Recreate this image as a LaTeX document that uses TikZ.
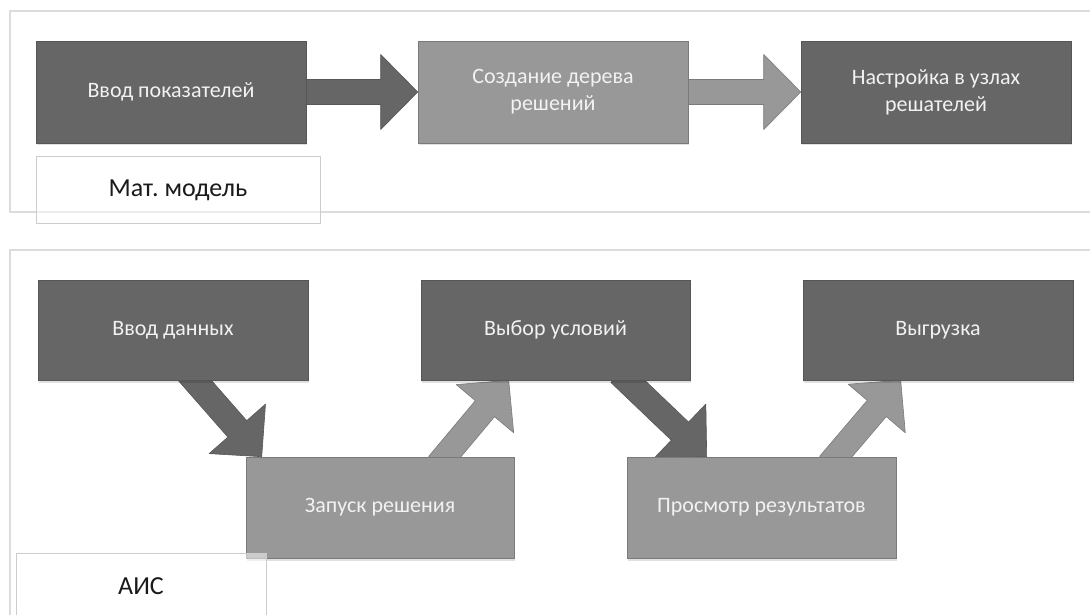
\documentclass[tikz,border=0pt]{standalone}
\usepackage{fontspec}
\setmainfont{Carlito}
\frenchspacing
\usetikzlibrary{calc,shadows}
\definecolor{darkf}{HTML}{666666}
\definecolor{darkd}{HTML}{565656}
\definecolor{midf}{HTML}{989898}
\definecolor{midd}{HTML}{7A7A7A}
\definecolor{framec}{HTML}{DCDCDC}
\definecolor{labeld}{HTML}{CCCCCC}
\definecolor{boxtext}{HTML}{F2F2F2}
\definecolor{labeltext}{HTML}{1A1A1A}
\pgfdeclarelayer{back}
\pgfdeclarelayer{bg}
\pgfsetlayers{back,bg,main}
\newcommand{\blockarrow}[3]{%
  \path ($(#2)!-10pt!(#3)$) coordinate (ba-s) ($(#3)!37pt!(#2)$) coordinate (ba-b);
  \draw[#1] ($(ba-s)!12.5pt!90:(#3)$) -- ($(ba-b)!12.5pt!90:(#3)$) -- ($(ba-b)!37.5pt!90:(#3)$) -- (#3)
    -- ($(ba-b)!37.5pt!-90:(#3)$) -- ($(ba-b)!12.5pt!-90:(#3)$) -- ($(ba-s)!12.5pt!-90:(#3)$) -- cycle;}
\tikzset{
  panel/.style={draw=framec, line width=1.3pt},
  box/.style={rectangle, inner sep=2pt, align=center, text=boxtext,
    font=\fontsize{22}{27}\selectfont, line width=0.6pt,
    drop shadow={shadow xshift=0.5pt, shadow yshift=-2.5pt, opacity=0.12, fill=black}},
  darkbox/.style={box, fill=darkf, draw=darkd},
  midbox/.style={box, fill=midf, draw=midd},
  labelbox/.style={rectangle, draw=labeld, line width=1pt, fill=white, fill opacity=0.5,
    text opacity=1, text=labeltext, font=\fontsize{26}{30}\selectfont},
  darkarrow/.style={fill=darkf, draw=darkd, line width=0.6pt, line join=round},
  midarrow/.style={fill=midf, draw=midd, line width=0.6pt, line join=round},
}
\begin{document}
\begin{tikzpicture}[x=1pt, y=-1pt]
\useasboundingbox (0,0) rectangle (1090,615);
\begin{pgfonlayer}{back}
  \fill[white] (0,0) rectangle (1090,615);
\end{pgfonlayer}

% top row (Mat. model)
\node[darkbox, minimum width=270pt, minimum height=102pt] (b1) at (171,92) {Ввод показателей};
\node[midbox, minimum width=270pt, minimum height=102pt] (b2) at (553,92) {Создание дерева\\решений};
\node[darkbox, minimum width=270pt, minimum height=102pt] (b3) at (936,92) {Настройка в узлах\\решателей};
\node[labelbox, minimum width=284pt, minimum height=66pt] (lm) at (178,190) {Мат. модель};

% bottom (AIS)
\node[darkbox, minimum width=270pt, minimum height=100pt] (c1) at (173,330) {Ввод данных};
\node[darkbox, minimum width=269pt, minimum height=100pt] (c2) at (555.5,330) {Выбор условий};
\node[darkbox, minimum width=270pt, minimum height=100pt] (c3) at (938,330) {Выгрузка};
\node[midbox, minimum width=268pt, minimum height=101pt] (d1) at (380,507.5) {Запуск решения};
\node[midbox, minimum width=269pt, minimum height=101pt] (d2) at (761.5,507.5) {Просмотр результатов};
\node[labelbox, minimum width=250pt, minimum height=67pt] (la) at (141,586.5) {АИС};

% connector end points
\coordinate (sA) at ($(c1.south west)+(157,0)$);
\coordinate (tA) at ($(d1.north west)+(16,0)$);
\coordinate (sB) at ($(d1.north west)+(199,0)$);
\coordinate (tB) at ($(c2.south west)+(88,0)$);
\coordinate (sC) at ($(c2.south west)+(206,0)$);
\coordinate (tC) at ($(d2.north west)+(80,0)$);
\coordinate (sD) at ($(d2.north west)+(209,0)$);
\coordinate (tD) at ($(c3.south west)+(98,0)$);

\begin{pgfonlayer}{bg}
  \draw[panel] (1095,11) -- (10,11) -- (10,212) -- (1095,212);
  \draw[panel] (1095,250) -- (10,250) -- (10,625);
  \blockarrow{darkarrow}{b1.east}{b2.west}
  \blockarrow{midarrow}{b2.east}{b3.west}
  \blockarrow{darkarrow}{sA}{tA}
  \blockarrow{midarrow}{sB}{tB}
  \blockarrow{darkarrow}{sC}{tC}
  \blockarrow{midarrow}{sD}{tD}
\end{pgfonlayer}
\end{tikzpicture}
\end{document}
